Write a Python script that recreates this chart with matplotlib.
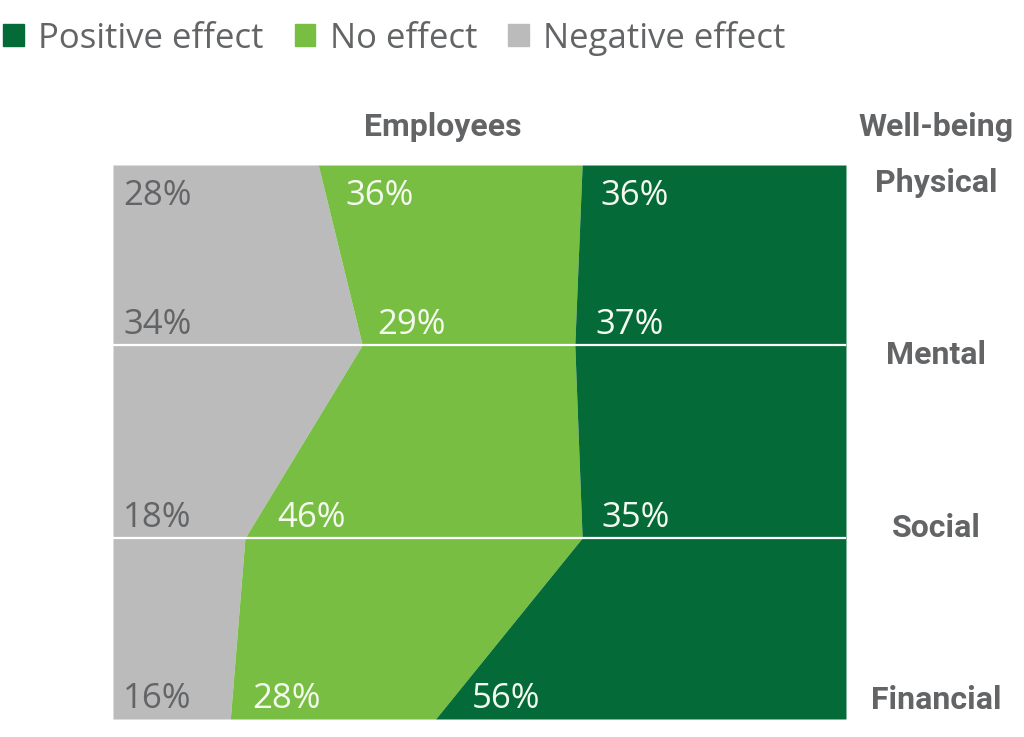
import numpy as np
import matplotlib.pyplot as plt
from matplotlib.patches import Patch

# data (percent of employees)
rows = ["Physical", "Mental", "Social", "Financial"]
negative = [28, 34, 18, 16]
no_effect = [36, 29, 46, 28]
positive = [36, 37, 35, 56]
series_names = ["Positive effect", "No effect", "Negative effect"]

# colours and layout
c_pos = "#046a38"
c_none = "#78be43"
c_neg = "#bbbbbc"
c_text = "#636466"
c_white = "#f4faf0"
row_y = np.array([0, 180, 373, 554])   # vertical position of each row (px-like units)
label_font = "Open Sans"
head_font = ["Roboto", "DejaVu Sans"]

fig = plt.figure(figsize=(10.24, 7.37), dpi=100)
ax = fig.add_axes([113 / 1024, 1 - 719 / 737, 733 / 1024, 554 / 737])

neg = np.array(negative, dtype=float)
mid = neg + np.array(no_effect)
top = mid + np.array(positive)
top = np.maximum(top, 100)  # rounding: Social adds up to 99

ax.fill_betweenx(row_y, 0, neg, color=c_neg, lw=0)
ax.fill_betweenx(row_y, neg, mid, color=c_none, lw=0)
ax.fill_betweenx(row_y, mid, top, color=c_pos, lw=0)

# white separators on the middle rows
for y in row_y[1:-1]:
    ax.axhline(y, color="white", lw=1.6)

ax.set_xlim(0, 100)
ax.set_ylim(row_y[-1], row_y[0])
ax.axis("off")

# value labels, a bit above each row line (below for the first one)
px = 100 / 733
for i in range(len(rows)):
    ly = row_y[i] + (31 if i == 0 else -20)
    ax.text(10 * px, ly, f"{negative[i]}%", color=c_text, fontsize=25,
            family=label_font, ha="left", va="center")
    x1 = np.interp(ly, row_y, neg) + 20 * px
    ax.text(x1, ly, f"{no_effect[i]}%", color=c_white, fontsize=25,
            family=label_font, ha="left", va="center")
    x2 = np.interp(ly, row_y, mid) + 20 * px
    ax.text(x2, ly, f"{positive[i]}%", color=c_white, fontsize=25,
            family=label_font, ha="left", va="center")

# headers and row names on the right
xr = (936 - 113) / 733
tr = ax.get_yaxis_transform()
ax.text((443 - 113) / 733, -38, "Employees", transform=tr, ha="center", va="center",
        fontsize=23, fontweight="bold", family=head_font, color=c_text, clip_on=False)
ax.text(xr, -38, "Well-being", transform=tr, ha="center", va="center",
        fontsize=23, fontweight="bold", family=head_font, color=c_text, clip_on=False)
for name, y in zip(rows, np.linspace(row_y[0] + 18, row_y[-1] - 19, len(rows))):
    ax.text(xr, y, name, transform=tr, ha="center", va="center",
            fontsize=23, fontweight="bold", family=head_font, color=c_text, clip_on=False)

handles = [Patch(color=c) for c in (c_pos, c_none, c_neg)]
leg = fig.legend(handles, series_names, loc="center left", bbox_to_anchor=(0.003, 1 - 38 / 737),
                 ncol=3, frameon=False, borderpad=0, borderaxespad=0,
                 handlelength=0.6, handleheight=0.6, handletextpad=0.42, columnspacing=0.88,
                 prop={"family": label_font, "size": 25})
for t in leg.get_texts():
    t.set_color(c_text)

fig.savefig("out.png", dpi=100)
